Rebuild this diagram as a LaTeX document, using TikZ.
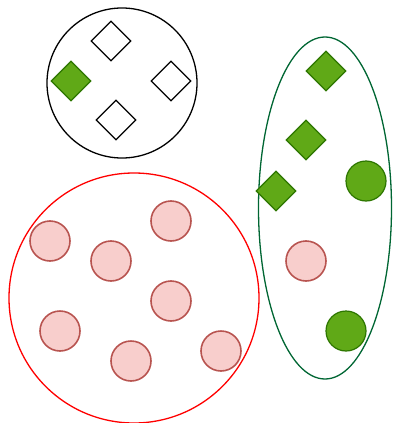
\documentclass[tikz,border=0pt]{standalone}
\usetikzlibrary{shapes.geometric}
\definecolor{gfill}{HTML}{60A917}
\definecolor{gline}{HTML}{2D7600}
\definecolor{pfill}{HTML}{F8CECC}
\definecolor{pline}{HTML}{B85450}
\definecolor{eline}{HTML}{006633}
\tikzset{
  gdia/.style={diamond, draw=gline, fill=gfill, line width=1.2pt, minimum width=40pt, minimum height=40pt, inner sep=0pt},
  wdia/.style={diamond, draw=black, fill=white, line width=1.3pt, minimum width=40pt, minimum height=40pt, inner sep=0pt},
  gcirc/.style={circle, draw=gline, fill=gfill, line width=1.2pt, minimum size=40pt, inner sep=0pt},
  pcirc/.style={circle, draw=pline, fill=pfill, line width=1.6pt, minimum size=40pt, inner sep=0pt},
}
\begin{document}
\begin{tikzpicture}[x=1pt,y=-1pt]
\useasboundingbox (0,0) rectangle (392,423);
% containers
\node[circle, draw=black, line width=1.3pt, minimum size=150pt, inner sep=0pt] (setA) at (122,83) {};
\node[circle, draw=red, line width=1.3pt, minimum size=250pt, inner sep=0pt] (setB) at (134,298) {};
\node[ellipse, draw=eline, line width=1.3pt, minimum width=133pt, minimum height=342pt, inner sep=0pt] (setC) at (325,208) {};
% set A
\node[wdia] (a1) at (111,41) {};
\node[gdia] (a2) at (71,81) {};
\node[wdia] (a3) at (171,81) {};
\node[wdia] (a4) at (116,120) {};
% set B
\node[pcirc] (b1) at (50,241) {};
\node[pcirc] (b2) at (111,261) {};
\node[pcirc] (b3) at (171,221) {};
\node[pcirc] (b4) at (171,301) {};
\node[pcirc] (b5) at (60,331) {};
\node[pcirc] (b6) at (131,361) {};
\node[pcirc] (b7) at (221,351) {};
% set C
\node[gdia] (c1) at (326,71) {};
\node[gdia] (c2) at (306,140) {};
\node[gdia] (c3) at (276,191) {};
\node[gcirc] (c4) at (366,181) {};
\node[pcirc] (c5) at (306,261) {};
\node[gcirc] (c6) at (346,331) {};
\end{tikzpicture}
\end{document}
